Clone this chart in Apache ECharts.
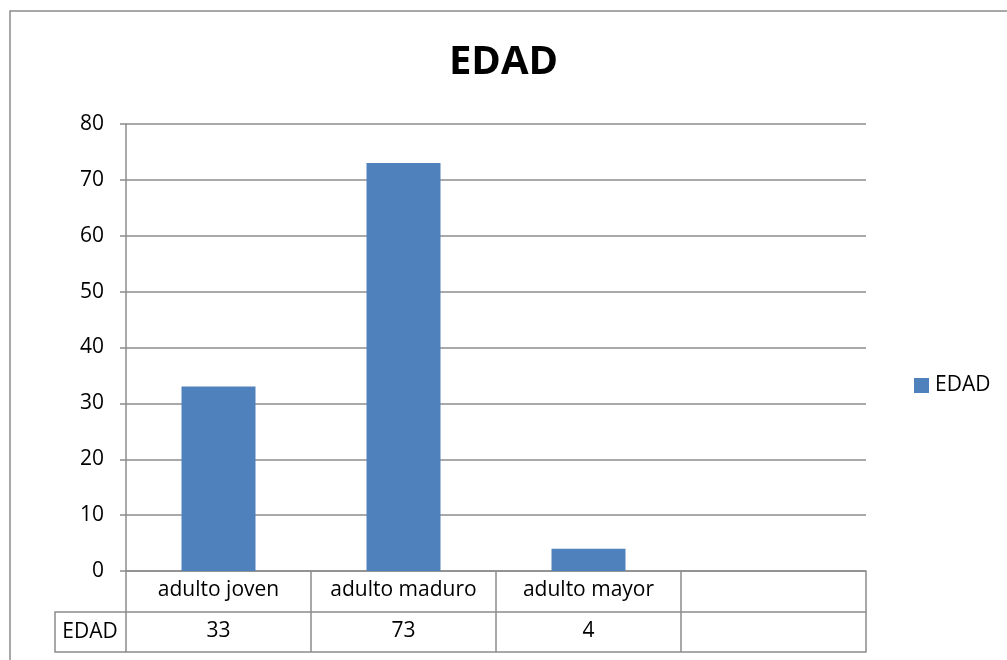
<!DOCTYPE html>
<html><head><meta charset="utf-8">
<script src="https://cdn.jsdelivr.net/npm/echarts@6/dist/echarts.min.js"></script>
<style>html,body{margin:0;padding:0;background:#fff}#c{width:1007px;height:660px}</style>
</head><body><div id="c"></div>
<script>
const categories = ['adulto joven', 'adulto maduro', 'adulto mayor', ''];
const edadValues = [33, 73, 4, null];
const tableLabels = ['33', '73', '4', ''];
const seriesName = 'EDAD';
const yTicks = { min: 0, max: 80, interval: 10 };

const FONT = 'Open Sans';
const FS = 21;
const GRID = { left: 126, right: 141, top: 124, bottom: 89 };
const ROW1 = 41, ROW2 = 40;
const lineColor = '#8c8c8c';

const chart = echarts.init(document.getElementById('c'));
const gridBottomY = 660 - GRID.bottom;
chart.setOption({
  animation: false,
  backgroundColor: '#fff',
  textStyle: { fontFamily: FONT },
  title: { text: 'EDAD', left: 'center', top: 38,
    textStyle: { fontFamily: FONT, fontWeight: 'bold', fontSize: 40, color: '#000' } },
  legend: { data: [seriesName], left: 909, top: 370, itemWidth: 15, itemHeight: 15, itemGap: 8,
    icon: 'rect', textStyle: { fontFamily: FONT, fontSize: FS, color: '#000', padding: [0,0,0,1] } },
  grid: GRID,
  xAxis: [
    { type: 'category', data: categories, boundaryGap: true,
      axisLine: { lineStyle: { color: lineColor, width: 1.5 } },
      axisTick: { show: true, length: ROW1 + ROW2, lineStyle: { color: lineColor, width: 1.5 } },
      axisLabel: { color: '#000', fontSize: FS, fontFamily: FONT, margin: 9, interval: 0 } },
    { type: 'category', data: tableLabels, position: 'bottom', offset: ROW1,
      axisLine: { show: true, lineStyle: { color: lineColor, width: 1.5 } },
      axisTick: { show: false },
      axisLabel: { color: '#000', fontSize: FS, fontFamily: FONT, margin: 9, interval: 0 } },
    { type: 'category', data: categories, position: 'bottom', offset: ROW1 + ROW2,
      axisLine: { show: true, lineStyle: { color: lineColor, width: 1.5 } },
      axisTick: { show: false }, axisLabel: { show: false } }
  ],
  yAxis: { type: 'value', min: yTicks.min, max: yTicks.max, interval: yTicks.interval,
    axisLine: { show: true, lineStyle: { color: lineColor, width: 1.5 } },
    axisTick: { show: true, length: 6, lineStyle: { color: lineColor, width: 1.5 } },
    splitLine: { lineStyle: { color: lineColor, width: 1.5 } },
    axisLabel: { color: '#000', fontSize: FS, fontFamily: FONT, margin: 22 } },
  series: [{ name: seriesName, type: 'bar', data: edadValues, xAxisIndex: 0,
    barWidth: '40%', itemStyle: { color: '#4F81BD' } }],
  graphic: [
    { type: 'rect', shape: { x: 10, y: 11, width: 1200, height: 800 }, silent: true, z: -10,
      style: { fill: 'none', stroke: '#8c8c8c', lineWidth: 1.5 } },
    { type: 'polyline', shape: { points: [[GRID.left, gridBottomY + ROW1], [55, gridBottomY + ROW1],
      [55, gridBottomY + ROW1 + ROW2], [GRID.left, gridBottomY + ROW1 + ROW2]] },
      style: { fill: 'none', stroke: lineColor, lineWidth: 1.5 } },
    { type: 'text', x: 90, y: gridBottomY + ROW1 + ROW2 / 2,
      style: { text: seriesName, fontFamily: FONT, fontSize: FS, fill: '#000', textAlign: 'center', textVerticalAlign: 'middle' } }
  ]
});
</script></body></html>
